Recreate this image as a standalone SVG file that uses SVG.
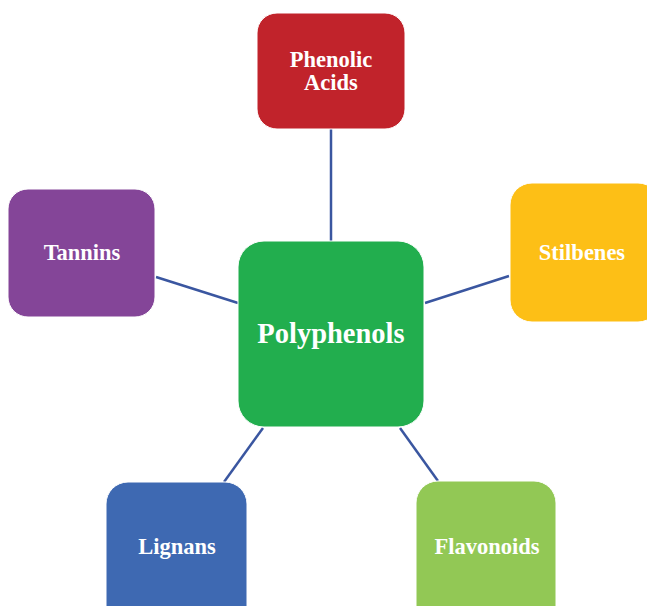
<svg xmlns="http://www.w3.org/2000/svg" width="647" height="606" viewBox="0 0 647 606">
<style>
.box{stroke:#ffffff;stroke-width:1}
.lbl{font-family:"Liberation Serif","Times New Roman",serif;font-weight:bold;fill:#ffffff;text-anchor:middle}
.s{font-size:22.5px}
.c{stroke:#3A56A0;stroke-width:2.5;fill:none}
</style>
<rect width="647" height="606" fill="#ffffff"/>
<g id="connectors">
<line class="c" x1="331" y1="129" x2="331" y2="241"/>
<line class="c" x1="156" y1="277" x2="238" y2="303"/>
<line class="c" x1="425" y1="303" x2="509" y2="276"/>
<line class="c" x1="263" y1="428" x2="224" y2="482"/>
<line class="c" x1="400" y1="428" x2="438" y2="481"/>
</g>
<g id="polyphenols">
<rect class="box" x="238" y="241" width="186" height="186" rx="26" fill="#22AE4E"/>
<text class="lbl" x="331" y="343" font-size="28.5">Polyphenols</text>
</g>
<g id="phenolic">
<rect class="box" x="257" y="13" width="148" height="116" rx="20" fill="#C1232B"/>
<text class="lbl s" x="331" y="67">Phenolic</text>
<text class="lbl s" x="331" y="90">Acids</text>
</g>
<g id="tannins">
<rect class="box" x="8" y="189" width="147" height="128" rx="20" fill="#844598"/>
<text class="lbl s" x="82" y="260">Tannins</text>
</g>
<g id="stilbenes">
<rect class="box" x="510" y="183" width="150" height="139" rx="22" fill="#FDBF16"/>
<text class="lbl s" x="582" y="260">Stilbenes</text>
</g>
<g id="lignans">
<rect class="box" x="106" y="482" width="141" height="150" rx="22" fill="#3E69B2"/>
<text class="lbl s" x="177" y="554">Lignans</text>
</g>
<g id="flavonoids">
<rect class="box" x="416" y="481" width="140" height="150" rx="22" fill="#92C855"/>
<text class="lbl s" x="487" y="554">Flavonoids</text>
</g>
</svg>
